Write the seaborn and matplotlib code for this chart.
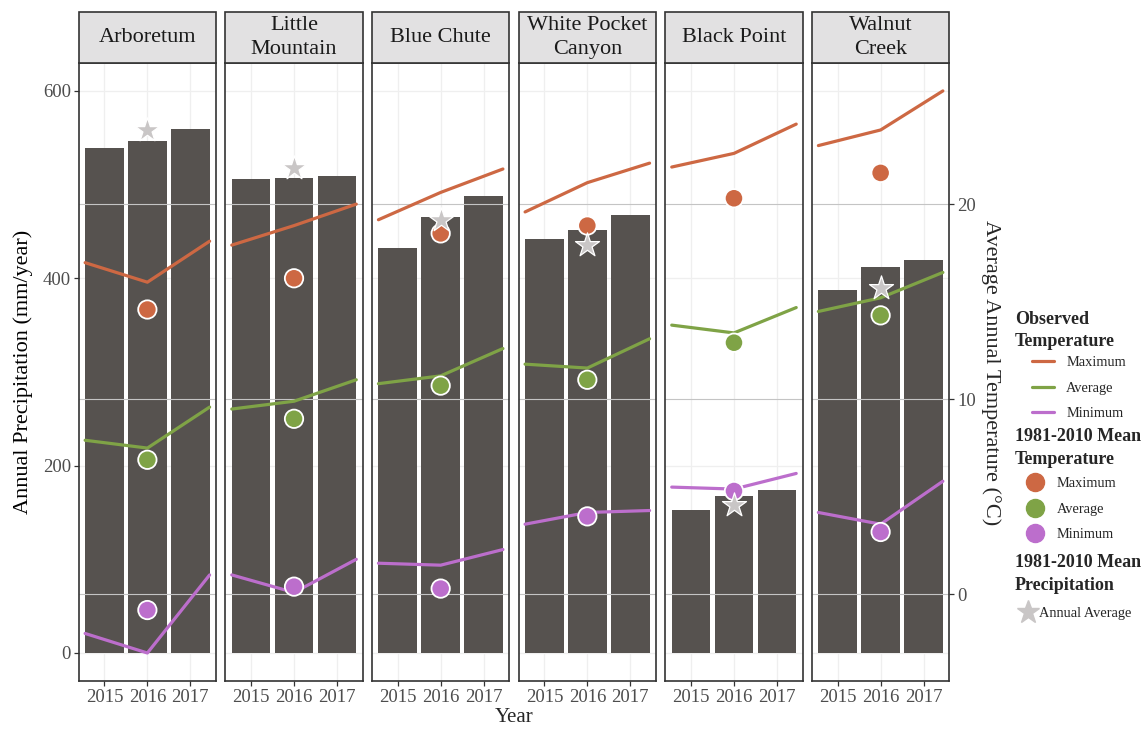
import numpy as np
import matplotlib
matplotlib.use("Agg")
import matplotlib.pyplot as plt
import seaborn as sns
from matplotlib.patches import Rectangle
from matplotlib.lines import Line2D

# ---------------------------------------------------------------- data
sites = ["Arboretum", "Little\nMountain", "Blue Chute",
         "White Pocket\nCanyon", "Black Point", "Walnut\nCreek"]
years = [2015, 2016, 2017]
normal_year = 2016

# observed annual precipitation (mm/year), one row per site, 2015-2017
precip_obs = [
    [539, 547, 559],
    [506, 507, 509],
    [432, 465, 488],
    [442, 452, 468],
    [153, 168, 174],
    [387, 412, 420],
]
# 1981-2010 mean annual precipitation (mm/year)
precip_normal = [558, 518, 462, 436, 158, 390]

# observed temperature (°C): start of 2015, 2016, end of 2017
tmax_obs = [
    [17.0, 16.0, 18.1],
    [17.9, 18.9, 20.0],
    [19.2, 20.6, 21.8],
    [19.6, 21.1, 22.1],
    [21.9, 22.6, 24.1],
    [23.0, 23.8, 25.8],
]
tavg_obs = [
    [7.9, 7.5, 9.6],
    [9.5, 9.9, 11.0],
    [10.8, 11.2, 12.6],
    [11.8, 11.6, 13.1],
    [13.8, 13.4, 14.7],
    [14.5, 15.2, 16.5],
]
tmin_obs = [
    [-2.0, -3.0, 1.0],
    [1.0, 0.1, 1.8],
    [1.6, 1.5, 2.3],
    [3.6, 4.2, 4.3],
    [5.5, 5.4, 6.2],
    [4.2, 3.6, 5.8],
]
# 1981-2010 mean temperature (°C)
tmax_normal = [14.6, 16.2, 18.5, 18.9, 20.3, 21.6]
tavg_normal = [6.9, 9.0, 10.7, 11.0, 12.9, 14.3]
tmin_normal = [-0.8, 0.4, 0.3, 4.0, 5.3, 3.2]

temp_labels = ["Maximum", "Average", "Minimum"]
temp_colors = ["#CD6843", "#7FA346", "#BC6ECC"]
bar_color = "#56524F"
star_color = "#C9C6C6"
temp_breaks = [0, 10, 20]


# temperature is shown on the precipitation scale
def t_to_mm(t):
    return (np.asarray(t, dtype=float) + 3.0) / 0.048


def mm_to_t(mm):
    return np.asarray(mm, dtype=float) * 0.048 - 3.0


bar_width = 0.9
# temperature lines run from the outer edge of the first bar to the outer edge of the last
line_x = [years[0] - bar_width / 2, years[1], years[2] + bar_width / 2]

# ---------------------------------------------------------------- style
sns.set_theme(style="white")
plt.rcParams["font.family"] = ["Liberation Serif", "DejaVu Serif"]

W, H = 1143, 729
fig, axes = plt.subplots(1, 6, figsize=(W / 100, H / 100), dpi=100, sharey=True)
fig.subplots_adjust(left=78.7 / W, right=949.3 / W, bottom=1 - 681 / H,
                    top=1 - 63.3 / H, wspace=0.0677)

tick_grey = "#4D4D4D"
frame = "#333333"
strip_h = 51.3 / 617.7

for i, ax in enumerate(axes):
    ax.set_facecolor("white")
    ax.set_axisbelow(True)
    ax.grid(True, color="#EFEFEF", lw=0.9)

    sns.barplot(x=years, y=precip_obs[i], native_scale=True, width=bar_width,
                color=bar_color, saturation=1, ax=ax, zorder=2, linewidth=0)

    for t in temp_breaks:
        ax.axhline(t_to_mm(t), color="#C4C4C4", lw=0.8, zorder=2.5)

    for series, col in zip([tmax_obs, tavg_obs, tmin_obs], temp_colors):
        sns.lineplot(x=line_x, y=t_to_mm(series[i]), color=col, lw=2.3,
                     ax=ax, zorder=3, sort=False)

    normals = [tmax_normal[i], tavg_normal[i], tmin_normal[i]]
    sns.scatterplot(x=[normal_year] * 3, y=t_to_mm(normals), hue=temp_labels,
                    palette=temp_colors, s=175, edgecolor="white", linewidth=1.3,
                    ax=ax, zorder=4, legend=False)
    sns.scatterplot(x=[normal_year], y=[precip_normal[i]], marker="*", s=330,
                    color=star_color, edgecolor="white", linewidth=0.9,
                    ax=ax, zorder=5, legend=False)

    ax.set_xlim(2014.4, 2017.6)
    ax.set_ylim(-29.9, 629.5)
    ax.set_xticks(years)
    ax.set_xticklabels([str(y) for y in years])
    ax.set_yticks([0, 200, 400, 600])
    ax.set_xlabel("")
    ax.set_ylabel("")
    for sp in ax.spines.values():
        sp.set_visible(True)
        sp.set_color(frame)
        sp.set_linewidth(1.2)
    ax.tick_params(axis="both", length=3.5, width=0.9, color=frame,
                   labelcolor=tick_grey, labelsize=13.5, pad=2,
                   bottom=True, left=(i == 0), labelleft=(i == 0))

    # facet strip
    ax.add_patch(Rectangle((0, 1), 1, strip_h, transform=ax.transAxes,
                           facecolor="#E2E1E2", edgecolor=frame, lw=1.2,
                           clip_on=False, zorder=5))
    ax.text(0.5, 1 + strip_h / 2, sites[i], transform=ax.transAxes,
            ha="center", va="center", fontsize=16, color="#1A1A1A",
            linespacing=1.4, zorder=6)

axes[0].set_ylabel("Annual Precipitation (mm/year)", fontsize=16, color="black",
                   labelpad=7)

sec = axes[-1].secondary_yaxis("right", functions=(mm_to_t, t_to_mm))
sec.set_yticks(temp_breaks)
sec.tick_params(length=3.5, width=0.9, color=frame, labelcolor=tick_grey,
                labelsize=13.5, pad=2)
sec.spines["right"].set_visible(False)
sec.set_ylabel("Average Annual Temperature (°C)", fontsize=16, rotation=-90,
               va="bottom", labelpad=4)

fig.text((78.7 + 949.3) / 2 / W, 1 - 718 / H, "Year", ha="center", va="center",
         fontsize=15)

# ---------------------------------------------------------------- legend
title_kw = dict(ha="left", va="center", fontsize=13, fontweight="bold",
                linespacing=1.45)
fig.text(1015 / W, 1 - 330.5 / H, "Observed\nTemperature", **title_kw)
fig.text(1015 / W, 1 - 448 / H, "1981-2010 Mean\nTemperature", **title_kw)
fig.text(1015 / W, 1 - 574 / H, "1981-2010 Mean\nPrecipitation", **title_kw)

leg_kw = dict(frameon=False, fontsize=10.4, borderpad=0, borderaxespad=0,
              handlelength=1.53, labelspacing=0.88, loc="center left")

line_handles = [Line2D([], [], color=c, lw=2.3) for c in temp_colors]
fig.legend(line_handles, temp_labels, bbox_to_anchor=(1032 / W, 1 - 388 / H),
           handletextpad=0.83, **leg_kw)

dot_handles = [Line2D([], [], ls="", marker="o", markersize=13,
                      markerfacecolor=c, markeredgecolor=c) for c in temp_colors]
fig.legend(dot_handles, temp_labels, bbox_to_anchor=(1024 / W, 1 - 509 / H),
           handletextpad=0.76, **leg_kw)

star_handle = [Line2D([], [], ls="", marker="*", markersize=17,
                      markerfacecolor=star_color, markeredgecolor=star_color)]
fig.legend(star_handle, ["Annual Average"], bbox_to_anchor=(1017 / W, 1 - 613 / H),
           handletextpad=0.0, **leg_kw)

fig.savefig("out.png", dpi=100)
